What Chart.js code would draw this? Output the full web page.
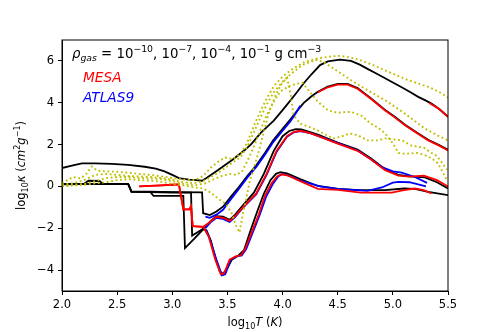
<!DOCTYPE html>
<html>
<head>
<meta charset="utf-8">
<script src="https://cdn.jsdelivr.net/npm/chart.js@4.4.1/dist/chart.umd.min.js"></script>
<style>
  html, body { margin: 0; padding: 0; background: #fff; }
</style>
</head>
<body>
<canvas id="kappaChart" width="498" height="332"></canvas>
<script>
// axis ticks
const xTicks = [2.0, 2.5, 3.0, 3.5, 4.0, 4.5, 5.0, 5.5];
const yTicks = [-4, -2, 0, 2, 4, 6];

// [log10 T, log10 kappa] pairs, one list per curve
const black_rho1 = [[2.0,0.88],[2.08,0.98],[2.18,1.1],[2.3,1.1],[2.45,1.08],[2.6,1.03],[2.75,0.94],[2.85,0.85],[2.93,0.72],[3.0,0.55],[3.06,0.4],[3.15,0.32],[3.22,0.3],[3.27,0.27],[3.31,0.4],[3.36,0.58],[3.46,0.95],[3.54,1.25],[3.6,1.5],[3.66,1.75],[3.72,2.05],[3.8,2.55],[3.86,2.85],[3.92,3.15],[4.0,3.65],[4.07,4.1],[4.13,4.5],[4.19,4.92],[4.26,5.35],[4.34,5.8],[4.41,5.98],[4.52,6.06],[4.62,6.0],[4.7,5.82],[4.77,5.62],[4.85,5.4],[4.93,5.17],[5.0,4.97],[5.08,4.74],[5.16,4.5],[5.23,4.28],[5.3,4.1],[5.35,3.96],[5.42,3.7],[5.5,3.33]];
const black_rho4 = [[2.0,0.12],[2.2,0.13],[2.24,0.27],[2.34,0.26],[2.37,0.13],[2.6,0.12],[2.63,-0.25],[2.8,-0.25],[3.0,-0.27],[3.27,-0.28],[3.28,-1.28],[3.34,-1.37],[3.4,-1.2],[3.46,-0.97],[3.53,-0.5],[3.6,-0.05],[3.68,0.5],[3.76,1.0],[3.84,1.6],[3.915,2.2],[4.0,2.75],[4.07,3.2],[4.13,3.6],[4.19,3.98],[4.26,4.3],[4.32,4.52],[4.41,4.77],[4.5,4.9],[4.59,4.9],[4.68,4.7],[4.8,4.22],[4.93,3.66],[5.02,3.32],[5.11,2.95],[5.22,2.57],[5.32,2.23],[5.42,1.98],[5.5,1.75]];
const black_rho7 = [[2.0,0.1],[2.2,0.11],[2.6,0.11],[2.63,-0.26],[2.8,-0.27],[3.0,-0.29],[3.17,-0.3],[3.18,-2.35],[3.24,-2.15],[3.3,-1.95],[3.35,-1.65],[3.4,-1.42],[3.46,-1.45],[3.52,-1.6],[3.57,-1.35],[3.64,-0.9],[3.74,-0.3],[3.83,0.6],[3.92,1.7],[4.0,2.4],[4.06,2.65],[4.12,2.74],[4.17,2.73],[4.25,2.6],[4.32,2.48],[4.5,2.1],[4.68,1.76],[4.8,1.35],[4.93,0.82],[5.05,0.55],[5.15,0.48],[5.29,0.43],[5.4,0.2],[5.5,-0.1]];
const black_rho10 = [[2.0,0.12],[2.2,0.12],[2.6,0.12],[2.63,-0.25],[2.8,-0.26],[2.83,-0.45],[3.1,-0.45],[3.115,-2.95],[3.2,-2.5],[3.28,-2.05],[3.31,-2.1],[3.35,-2.6],[3.39,-3.4],[3.43,-4.05],[3.46,-4.18],[3.5,-3.9],[3.54,-3.5],[3.6,-3.3],[3.65,-3.05],[3.71,-2.1],[3.77,-1.2],[3.83,-0.35],[3.89,0.3],[3.94,0.6],[3.98,0.68],[4.04,0.62],[4.16,0.35],[4.32,0.02],[4.5,-0.12],[4.7,-0.18],[4.93,-0.18],[5.1,-0.1],[5.2,-0.12],[5.32,-0.26],[5.5,-0.42]];

const mesa_rho1 = [[5.33,3.99],[5.42,3.7],[5.5,3.33]];
const mesa_rho4 = [[4.32,4.5],[4.41,4.74],[4.5,4.87],[4.59,4.87],[4.68,4.67],[4.8,4.19],[4.93,3.63],[5.02,3.29],[5.11,2.92],[5.22,2.54],[5.32,2.2],[5.42,1.95],[5.5,1.72]];
const mesa_rho7 = [[2.7,0.0],[2.8,0.03],[2.9,0.05],[3.0,0.08],[3.06,0.1],[3.08,-0.5],[3.1,-1.1],[3.155,-1.1],[3.17,-0.95],[3.185,-1.9],[3.28,-1.93],[3.33,-1.75],[3.4,-1.45],[3.46,-1.5],[3.52,-1.65],[3.57,-1.42],[3.64,-1.0],[3.76,-0.35],[3.855,0.6],[3.945,1.7],[4.04,2.4],[4.1,2.6],[4.16,2.66],[4.25,2.55],[4.32,2.42],[4.5,2.05],[4.68,1.7],[4.8,1.3],[4.93,0.78],[5.05,0.52],[5.15,0.47],[5.28,0.52],[5.4,0.3],[5.5,0.0]];
const mesa_rho10 = [[2.7,0.0],[2.8,0.03],[2.9,0.05],[3.0,0.08],[3.06,0.1],[3.08,-0.5],[3.1,-1.1],[3.155,-1.1],[3.17,-0.95],[3.185,-1.9],[3.28,-1.93],[3.33,-2.4],[3.39,-3.5],[3.44,-4.2],[3.47,-4.15],[3.52,-3.5],[3.57,-3.35],[3.62,-3.3],[3.66,-3.0],[3.72,-2.2],[3.78,-1.4],[3.84,-0.45],[3.9,0.15],[3.95,0.48],[3.99,0.58],[4.05,0.52],[4.16,0.25],[4.32,-0.12],[4.5,-0.17],[4.71,-0.3],[4.99,-0.3],[5.1,-0.18],[5.2,-0.1],[5.28,-0.18],[5.35,-0.34]];

const atlas_rho4 = [[3.3,-1.45],[3.34,-1.5],[3.4,-1.35],[3.46,-1.12],[3.53,-0.62],[3.6,-0.15],[3.68,0.42],[3.76,0.92],[3.84,1.52],[3.915,2.12],[4.0,2.66],[4.07,3.1],[4.12,3.5],[4.16,3.86]];
const atlas_rho7 = [[3.3,-2.0],[3.35,-1.7],[3.4,-1.5],[3.46,-1.55],[3.52,-1.7],[3.57,-1.47],[3.64,-1.02],[3.76,-0.38],[3.855,0.55],[3.945,1.65],[4.04,2.38],[4.1,2.58],[4.16,2.64],[4.25,2.55],[4.32,2.42],[4.5,2.07],[4.68,1.72],[4.8,1.3],[4.9,0.92],[5.0,0.72],[5.08,0.66],[5.2,0.45],[5.31,0.17]];
const atlas_rho10 = [[3.3,-2.05],[3.34,-2.5],[3.4,-3.5],[3.45,-4.25],[3.48,-4.2],[3.53,-3.5],[3.58,-3.35],[3.63,-3.3],[3.67,-3.0],[3.73,-2.2],[3.79,-1.4],[3.85,-0.5],[3.91,0.1],[3.96,0.48],[4.0,0.6],[4.05,0.53],[4.16,0.28],[4.34,0.0],[4.5,-0.12],[4.77,-0.21],[4.9,-0.05],[5.0,0.18],[5.05,0.22],[5.15,0.2],[5.3,0.0]];

const other_rho1 = [[2.0,0.15],[2.05,0.3],[2.1,0.45],[2.17,0.38],[2.22,0.6],[2.27,0.95],[2.32,0.75],[2.4,0.72],[2.5,0.7],[2.6,0.65],[2.7,0.6],[2.8,0.55],[2.9,0.48],[3.0,0.4],[3.1,0.33],[3.2,0.3],[3.28,0.5],[3.35,0.9],[3.42,1.2],[3.48,1.38],[3.55,1.3],[3.62,1.55],[3.68,2.1],[3.74,2.9],[3.8,3.6],[3.86,4.25],[3.93,4.85],[4.0,5.25],[4.1,5.65],[4.2,5.95],[4.32,6.12],[4.45,6.22],[4.52,6.24],[4.6,6.18],[4.71,6.03],[4.82,5.8],[4.93,5.55],[5.04,5.3],[5.14,5.08],[5.23,4.92],[5.32,4.76],[5.41,4.55],[5.5,4.25]];
const other_rho4 = [[2.0,0.1],[2.1,0.15],[2.2,0.3],[2.3,0.55],[2.4,0.6],[2.5,0.55],[2.6,0.5],[2.7,0.48],[2.8,0.45],[2.9,0.4],[3.0,0.32],[3.1,0.2],[3.2,0.15],[3.3,0.3],[3.4,0.6],[3.47,0.85],[3.55,1.15],[3.62,1.4],[3.68,1.9],[3.74,2.6],[3.8,3.3],[3.86,3.95],[3.92,4.5],[4.0,5.0],[4.08,5.4],[4.18,5.8],[4.3,6.05],[4.37,5.95],[4.44,5.71],[4.53,5.4],[4.62,5.08],[4.7,4.82],[4.77,4.6],[4.85,4.36],[4.93,4.12],[5.02,3.8],[5.11,3.48],[5.2,3.12],[5.29,2.77],[5.4,2.45],[5.5,2.2]];
const other_rho7 = [[2.0,0.05],[2.1,0.08],[2.2,0.12],[2.3,0.25],[2.4,0.4],[2.5,0.45],[2.6,0.45],[2.7,0.4],[2.8,0.38],[2.9,0.35],[3.0,0.25],[3.1,0.12],[3.2,0.05],[3.3,0.15],[3.38,0.35],[3.45,0.5],[3.52,0.6],[3.58,0.55],[3.63,0.7],[3.68,1.2],[3.74,1.9],[3.8,2.7],[3.86,3.45],[3.92,4.05],[3.98,4.55],[4.06,4.8],[4.12,4.9],[4.18,4.95],[4.25,4.5],[4.32,4.05],[4.41,3.64],[4.5,3.52],[4.56,3.55],[4.62,3.56],[4.71,3.4],[4.8,3.0],[4.87,2.8],[4.93,2.53],[4.98,2.2],[5.02,1.89],[5.05,1.6],[5.1,1.57],[5.14,1.57],[5.22,1.6],[5.29,1.5],[5.35,1.35],[5.41,1.1],[5.46,0.6],[5.49,0.3]];
const other_rho10 = [[2.0,0.0],[2.1,0.05],[2.2,0.08],[2.3,0.15],[2.4,0.2],[2.5,0.3],[2.6,0.35],[2.7,0.3],[2.8,0.28],[2.9,0.22],[3.0,0.12],[3.1,0.05],[3.2,-0.05],[3.28,-0.1],[3.35,-0.3],[3.42,-0.6],[3.49,-0.85],[3.54,-1.3],[3.58,-1.9],[3.61,-2.2],[3.64,-1.3],[3.67,-0.6],[3.7,0.2],[3.74,0.9],[3.78,1.6],[3.83,2.6],[3.88,3.6],[3.94,4.4],[3.99,4.9],[4.04,5.2],[4.07,4.5],[4.1,3.4],[4.16,3.0],[4.24,2.85],[4.31,2.7],[4.38,2.5],[4.46,2.29],[4.54,2.4],[4.61,2.53],[4.68,2.45],[4.77,2.2],[4.86,2.2],[4.93,2.29],[5.0,2.25],[5.08,2.21],[5.17,1.95],[5.28,1.85],[5.35,1.6],[5.4,1.45],[5.45,1.1],[5.49,0.8]];

const FONT = "'DejaVu Sans', sans-serif";

function curve(points, color, order, dashed) {
  return {
    data: points.map(([x, y]) => ({ x, y })),
    showLine: true,
    borderColor: color,
    borderWidth: dashed ? 1.9 : 1.8,
    borderDash: dashed ? [1.8, 2.7] : [],
    pointRadius: 0,
    pointHoverRadius: 0,
    order: order,
  };
}

// mathtext-like drawing: parts are [text, italic, shift] with shift 1 = sup, -1 = sub
function drawMath(ctx, x, y, parts, size, color, centered) {
  const fontOf = (it, sh) => `${it ? "italic " : ""}${sh ? size * 0.7 : size}px ${FONT}`;
  const widths = parts.map(([t, it, sh]) => {
    ctx.font = fontOf(it, sh);
    return ctx.measureText(t).width;
  });
  const total = widths.reduce((a, b) => a + b, 0);
  let cx = centered ? x - total / 2 : x;
  ctx.fillStyle = color;
  ctx.textAlign = "left";
  ctx.textBaseline = "alphabetic";
  parts.forEach(([t, it, sh], i) => {
    ctx.font = fontOf(it, sh);
    const dy = sh === 1 ? -size * 0.42 : sh === -1 ? size * 0.24 : 0;
    ctx.fillText(t, cx, y + dy);
    cx += widths[i];
  });
}

const decorations = {
  id: "decorations",
  afterDraw(chart) {
    const { ctx, chartArea: a } = chart;
    ctx.save();
    ctx.strokeStyle = "#000";
    ctx.lineWidth = 1;
    ctx.strokeRect(a.left, a.top, a.right - a.left, a.bottom - a.top);

    drawMath(ctx, 72, 57.5, [
      ["\u03c1", true, 0], ["gas", true, -1], [" = 10", false, 0], ["\u221210", false, 1],
      [", 10", false, 0], ["\u22127", false, 1], [", 10", false, 0], ["\u22124", false, 1],
      [", 10", false, 0], ["\u22121", false, 1], [" g cm", false, 0], ["\u22123", false, 1],
    ], 13.3, "#000", false);
    drawMath(ctx, 83, 81.5, [["MESA", true, 0]], 13.7, "#ff0000", false);
    drawMath(ctx, 83, 101.5, [["ATLAS9", true, 0]], 13.7, "#0000ff", false);

    drawMath(ctx, (a.left + a.right) / 2, 326, [
      ["log", false, 0], ["10", false, -1], ["T", true, 0], [" (", false, 0], ["K", true, 0], [")", false, 0],
    ], 11.5, "#000", true);

    ctx.translate(25, (a.top + a.bottom) / 2);
    ctx.rotate(-Math.PI / 2);
    drawMath(ctx, 0, 0, [
      ["log", false, 0], ["10", false, -1], ["\u03ba", true, 0], [" (", false, 0], ["cm", true, 0],
      ["2", false, 1], ["g", true, 0], ["\u22121", false, 1], [")", false, 0],
    ], 11.5, "#000", true);
    ctx.restore();
  },
};

const minus = (v) => (v < 0 ? "\u2212" + Math.abs(v) : String(v));

new Chart(document.getElementById("kappaChart").getContext("2d"), {
  type: "scatter",
  data: {
    datasets: [
      curve(other_rho1, "#bfbf00", 0, true),
      curve(other_rho4, "#bfbf00", 0, true),
      curve(other_rho7, "#bfbf00", 0, true),
      curve(other_rho10, "#bfbf00", 0, true),
      curve(mesa_rho1, "#ff0000", 1),
      curve(mesa_rho4, "#ff0000", 1),
      curve(mesa_rho7, "#ff0000", 1),
      curve(mesa_rho10, "#ff0000", 1),
      curve(atlas_rho4, "#0000ff", 2),
      curve(atlas_rho7, "#0000ff", 2),
      curve(atlas_rho10, "#0000ff", 2),
      curve(black_rho1, "#000000", 3),
      curve(black_rho4, "#000000", 3),
      curve(black_rho7, "#000000", 3),
      curve(black_rho10, "#000000", 3),
    ],
  },
  options: {
    responsive: false,
    animation: false,
    devicePixelRatio: 1,
    events: [],
    layout: { padding: { left: 0, right: 50, top: 40, bottom: 0 } },
    plugins: { legend: { display: false }, tooltip: { enabled: false } },
    scales: {
      x: {
        type: "linear",
        min: 2,
        max: 5.5,
        afterBuildTicks: (s) => { s.ticks = xTicks.map((v) => ({ value: v })); },
        afterFit: (s) => { s.height = 41; },
        ticks: {
          callback: (v) => v.toFixed(1),
          font: { family: FONT, size: 11.5 },
          color: "#000",
          padding: 3,
          maxRotation: 0,
          autoSkip: false,
        },
        grid: { drawOnChartArea: false, tickLength: 4, color: "#000" },
        border: { color: "#000" },
      },
      y: {
        type: "linear",
        min: -5,
        max: 7,
        afterBuildTicks: (s) => { s.ticks = yTicks.map((v) => ({ value: v })); },
        afterFit: (s) => { s.width = 62; },
        ticks: {
          callback: (v) => minus(v),
          font: { family: FONT, size: 11.5 },
          color: "#000",
          padding: 4,
          autoSkip: false,
        },
        grid: { drawOnChartArea: false, tickLength: 4, color: "#000" },
        border: { color: "#000" },
      },
    },
  },
  plugins: [decorations],
});
</script>
</body>
</html>
